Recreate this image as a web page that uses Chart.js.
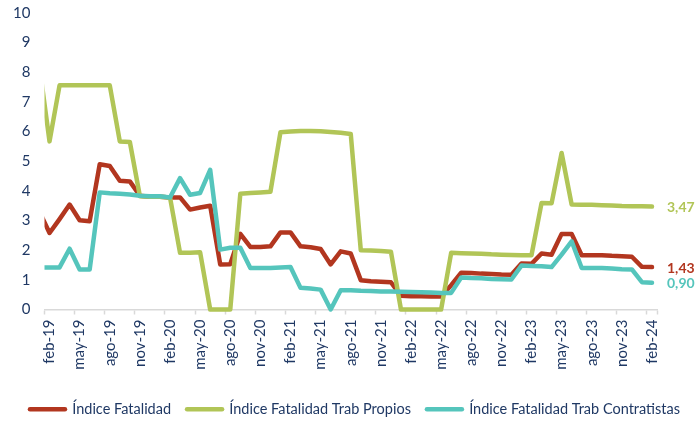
<!DOCTYPE html>
<html>
<head>
<meta charset="utf-8">
<script src="https://cdn.jsdelivr.net/npm/chart.js@4.4.1/dist/chart.umd.min.js"></script>
<style>
  html, body { margin: 0; padding: 0; background: #fff; }
  #wrap { width: 696px; height: 421px; }
</style>
</head>
<body>
<div id="wrap"><canvas id="fatalidadChart" width="696" height="421"></canvas></div>
<script>
// Monthly categories. ene-19 is only there so the line comes in from the left edge
// (the axis starts at feb-19, the point before it gets clipped like in the original).
const months = [
    'ene-19', 'feb-19', 'mar-19', 'abr-19', 'may-19', 'jun-19', 'jul-19', 'ago-19', 'sep-19', 'oct-19', 'nov-19', 'dic-19',
    'ene-20', 'feb-20', 'mar-20', 'abr-20', 'may-20', 'jun-20', 'jul-20', 'ago-20', 'sep-20', 'oct-20', 'nov-20', 'dic-20',
    'ene-21', 'feb-21', 'mar-21', 'abr-21', 'may-21', 'jun-21', 'jul-21', 'ago-21', 'sep-21', 'oct-21', 'nov-21', 'dic-21',
    'ene-22', 'feb-22', 'mar-22', 'abr-22', 'may-22', 'jun-22', 'jul-22', 'ago-22', 'sep-22', 'oct-22', 'nov-22', 'dic-22',
    'ene-23', 'feb-23', 'mar-23', 'abr-23', 'may-23', 'jun-23', 'jul-23', 'ago-23', 'sep-23', 'oct-23', 'nov-23', 'dic-23',
    'ene-24', 'feb-24',
];

// Índice Fatalidad
const fatalidad = [
    3.30,
    2.58, 3.05, 3.54, 3.01, 2.98, 4.90, 4.84, 4.34, 4.32, 3.84, 3.80,
    3.80, 3.78, 3.78, 3.37, 3.44, 3.50, 1.52, 1.53, 2.55, 2.11, 2.11,
    2.13, 2.60, 2.60, 2.13, 2.10, 2.04, 1.52, 1.96, 1.89, 0.99, 0.95,
    0.94, 0.92, 0.46, 0.45, 0.45, 0.44, 0.44, 0.82, 1.24, 1.23, 1.21,
    1.20, 1.18, 1.17, 1.55, 1.54, 1.89, 1.85, 2.55, 2.55, 1.83, 1.83,
    1.83, 1.81, 1.80, 1.78, 1.44, 1.43,
];

// Índice Fatalidad Trab Propios
const propios = [
    8.20,
    5.67, 7.56, 7.56, 7.56, 7.56, 7.56, 7.56, 5.67, 5.65, 3.82, 3.80,
    3.80, 3.78, 1.91, 1.91, 1.93, 0.00, 0.00, 0.00, 3.90, 3.93, 3.95,
    3.97, 5.98, 6.00, 6.02, 6.02, 6.01, 5.99, 5.96, 5.92, 2.00, 1.99,
    1.97, 1.95, 0.00, 0.00, 0.00, 0.00, 0.00, 1.91, 1.90, 1.89, 1.88,
    1.86, 1.85, 1.84, 1.83, 1.83, 3.59, 3.58, 5.28, 3.54, 3.53, 3.53,
    3.52, 3.51, 3.49, 3.48, 3.48, 3.47,
];

// Índice Fatalidad Trab Contratistas
const contratistas = [
    1.42,
    1.42, 1.42, 2.05, 1.35, 1.35, 3.95, 3.92, 3.90, 3.88, 3.84, 3.82,
    3.82, 3.78, 4.43, 3.87, 3.93, 4.71, 2.02, 2.08, 2.08, 1.40, 1.40,
    1.40, 1.42, 1.43, 0.73, 0.71, 0.67, 0.00, 0.65, 0.65, 0.63, 0.62,
    0.61, 0.61, 0.60, 0.59, 0.58, 0.57, 0.56, 0.56, 1.08, 1.06, 1.05,
    1.03, 1.02, 1.01, 1.48, 1.47, 1.46, 1.43, 1.85, 2.30, 1.40, 1.40,
    1.40, 1.38, 1.36, 1.35, 0.92, 0.90,
];

const seriesNames = ['Índice Fatalidad', 'Índice Fatalidad Trab Propios', 'Índice Fatalidad Trab Contratistas'];
const seriesColors = ['#B2361F', '#B1C557', '#55C5BC'];
const firstMonth = 'feb-19';
const yMin = 0;
const yMax = 10;

const NAVY = '#1F3864';
const AXIS_GRAY = '#D9D9D9';

Chart.defaults.font.family = "Lato, 'Noto Sans', sans-serif";
Chart.defaults.color = NAVY;

// value labels right after the last point of each line (3,47 / 1,43 / 0,90)
const endLabels = {
    id: 'endLabels',
    afterDatasetsDraw(chart) {
        const ctx = chart.ctx;
        ctx.save();
        ctx.font = "bold 14px Lato, sans-serif";
        ctx.textBaseline = 'middle';
        ctx.textAlign = 'left';
        chart.data.datasets.forEach((ds, i) => {
            const pts = chart.getDatasetMeta(i).data;
            const last = pts[pts.length - 1];
            const value = ds.data[ds.data.length - 1];
            ctx.fillStyle = ds.borderColor;
            ctx.fillText(value.toFixed(2).replace('.', ','), last.x + 15, last.y + 1);
        });
        ctx.restore();
    },
};

function makeDataset(idx, data, order) {
    return {
        label: seriesNames[idx],
        data: data,
        borderColor: seriesColors[idx],
        backgroundColor: seriesColors[idx],
        borderWidth: 4.5,
        borderJoinStyle: 'round',
        borderCapStyle: 'round',
        tension: 0,
        pointRadius: 0,
        pointHoverRadius: 0,
        fill: false,
        order: order,
        clip: { left: 0, top: 6, right: 6, bottom: 6 },
    };
}

function initChart() {
    const ctx = document.getElementById('fatalidadChart');

    new Chart(ctx, {
        type: 'line',
        data: {
            labels: months,
            datasets: [
                makeDataset(0, fatalidad, 3),
                makeDataset(1, propios, 2),
                makeDataset(2, contratistas, 1),
            ],
        },
        options: {
            responsive: false,
            animation: false,
            events: [],
            layout: {
                padding: { left: 0, right: 0, top: 13, bottom: -5.5 },
            },
            scales: {
                x: {
                    type: 'category',
                    min: firstMonth,
                    offset: true,
                    grid: {
                        display: true,
                        offset: true,
                        drawOnChartArea: false,
                        drawTicks: true,
                        tickLength: 5,
                        tickWidth: 1.5,
                        tickColor: function(c) {
                            return (c.index === undefined || c.index % 3 === 0) ? AXIS_GRAY : 'rgba(0,0,0,0)';
                        },
                    },
                    border: {
                        display: true,
                        color: AXIS_GRAY,
                        width: 1.5,
                    },
                    ticks: {
                        autoSkip: false,
                        maxRotation: 90,
                        minRotation: 90,
                        padding: 5,
                        color: NAVY,
                        font: { size: 15 },
                        callback: function(value, index) {
                            return index % 3 === 0 ? this.getLabelForValue(value) : '';
                        },
                    },
                    afterFit: function(scale) {
                        // room under the axis down to the legend, and the gap on the right for the end labels
                        scale.height = 76.5;
                        scale.paddingLeft = 0;
                        scale.paddingRight = 39;
                    },
                },
                y: {
                    min: yMin,
                    max: yMax,
                    grid: { display: false, drawTicks: false },
                    border: { display: false },
                    ticks: {
                        stepSize: 1,
                        padding: 14,
                        color: NAVY,
                        font: { size: 15 },
                    },
                    afterFit: function(scale) {
                        scale.width = 44.5;
                        scale.paddingTop = 0;
                        scale.paddingBottom = 0;
                    },
                },
            },
            plugins: {
                tooltip: { enabled: false },
                legend: {
                    display: true,
                    position: 'bottom',
                    align: 'end',
                    labels: {
                        usePointStyle: true,
                        pointStyle: 'line',
                        pointStyleWidth: 35,
                        padding: 16,
                        color: NAVY,
                        font: { size: 14.5 },
                        generateLabels: function(chart) {
                            return chart.data.datasets.map((ds, i) => ({
                                text: ds.label,
                                fillStyle: ds.borderColor,
                                strokeStyle: ds.borderColor,
                                lineWidth: 4.5,
                                lineCap: 'round',
                                pointStyle: 'line',
                                fontColor: NAVY,
                                hidden: false,
                                datasetIndex: i,
                            }));
                        },
                    },
                },
            },
        },
        plugins: [endLabels],
    });
}

initChart();
</script>
</body>
</html>
